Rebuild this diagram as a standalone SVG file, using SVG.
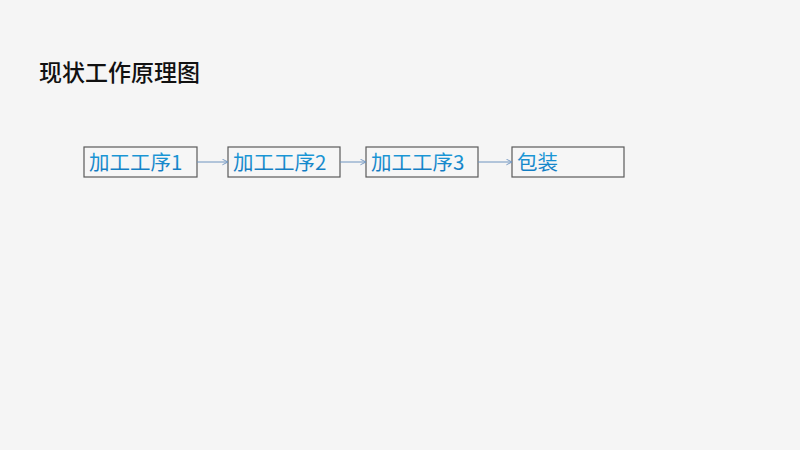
<svg xmlns="http://www.w3.org/2000/svg" width="800" height="450" viewBox="0 0 800 450">
<defs>
<marker id="arr" viewBox="0 0 10 10" refX="9" refY="5" markerWidth="7" markerHeight="7" orient="auto" markerUnits="userSpaceOnUse">
<path d="M1,1 L9,5 L1,9" fill="none" stroke="#6f94bf" stroke-width="1.3"/>
</marker>
<linearGradient id="tg" x1="0" y1="0" x2="0" y2="1">
<stop offset="0" stop-color="#1fa6e0"/>
<stop offset="1" stop-color="#0f74bd"/>
</linearGradient>
</defs>
<style>
.box{fill:#f6f6f6;stroke:#5a5a5a;stroke-width:1.2}
.lbl{font-family:"Noto Sans CJK SC","Microsoft YaHei","Liberation Sans",sans-serif;font-size:20.5px;fill:url(#tg)}
.conn{stroke:#6f94bf;stroke-width:1;fill:none}
</style>
<rect width="800" height="450" fill="#f5f5f5"/>
<text x="39" y="81" font-family="'Noto Sans CJK SC',sans-serif" font-size="23" font-weight="500" fill="#111">现状工作原理图</text>
<g id="n1"><rect class="box" x="84" y="147" width="113" height="30"/><text class="lbl" x="89" y="170">加工工序1</text></g>
<g id="n2"><rect class="box" x="228" y="147" width="112" height="30"/><text class="lbl" x="233" y="170">加工工序2</text></g>
<g id="n3"><rect class="box" x="366" y="147" width="112" height="30"/><text class="lbl" x="371" y="170">加工工序3</text></g>
<g id="n4"><rect class="box" x="512" y="147" width="112" height="30"/><text class="lbl" x="517" y="170">包装</text></g>
<g id="connectors">
<line class="conn" x1="197" y1="162" x2="228" y2="162" marker-end="url(#arr)"/>
<line class="conn" x1="340" y1="162" x2="366" y2="162" marker-end="url(#arr)"/>
<line class="conn" x1="478" y1="162" x2="512" y2="162" marker-end="url(#arr)"/>
</g>
</svg>
